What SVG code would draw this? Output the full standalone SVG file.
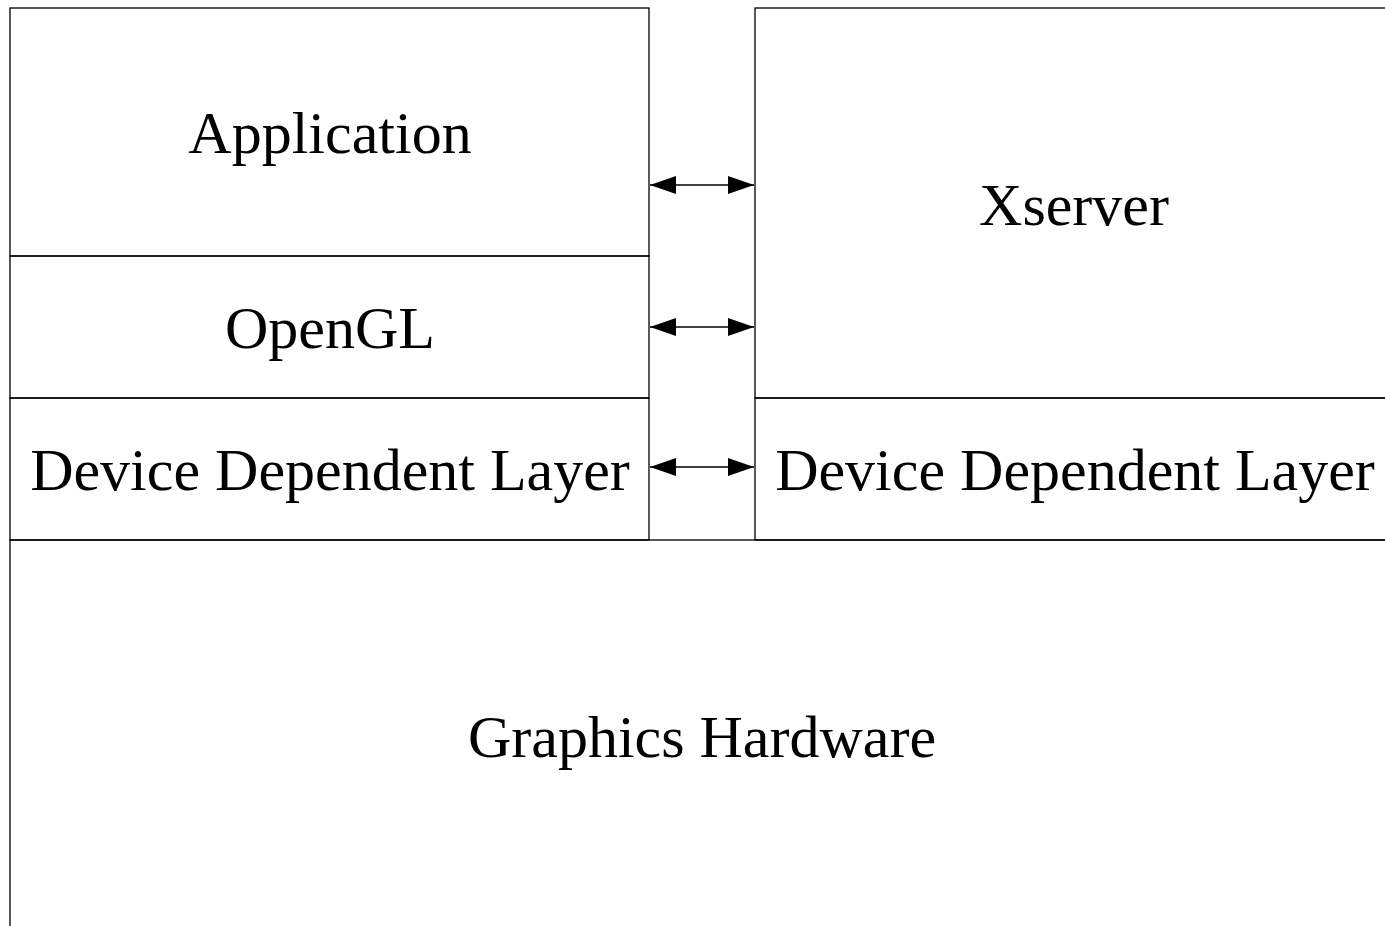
<svg xmlns="http://www.w3.org/2000/svg" width="1385" height="926" viewBox="0 0 1385 926">
<style>
.box{fill:none;stroke:#000;stroke-width:1.3}
.lbl{font-family:"Liberation Serif","Times New Roman",serif;font-size:60px;fill:#000;text-anchor:middle}
.con{stroke:#000;stroke-width:1.3;fill:none}
</style>
<defs>
<marker id="ah" markerWidth="27" markerHeight="20" refX="26" refY="10" orient="auto-start-reverse" markerUnits="userSpaceOnUse">
<path d="M0,1 L26,10 L0,19 Z" fill="#000"/>
</marker>
</defs>
<rect width="1385" height="926" fill="#fff"/>
<g id="application"><rect class="box" x="10" y="8" width="639" height="248"/><text class="lbl" x="330" y="153">Application</text></g>
<g id="opengl"><rect class="box" x="10" y="256" width="639" height="142"/><text class="lbl" x="330" y="348">OpenGL</text></g>
<g id="ddl-left"><rect class="box" x="10" y="398" width="639" height="142"/><text class="lbl" x="330" y="490">Device Dependent Layer</text></g>
<g id="xserver"><rect class="box" x="755" y="8" width="650" height="390"/><text class="lbl" x="1074" y="225">Xserver</text></g>
<g id="ddl-right"><rect class="box" x="755" y="398" width="650" height="142"/><text class="lbl" x="1075" y="490">Device Dependent Layer</text></g>
<g id="hardware"><rect class="box" x="10" y="540" width="1400" height="420"/><text class="lbl" x="702" y="757">Graphics Hardware</text></g>
<g id="connectors">
<line class="con" x1="650" y1="185" x2="754" y2="185" marker-start="url(#ah)" marker-end="url(#ah)"/>
<line class="con" x1="650" y1="327" x2="754" y2="327" marker-start="url(#ah)" marker-end="url(#ah)"/>
<line class="con" x1="650" y1="467" x2="754" y2="467" marker-start="url(#ah)" marker-end="url(#ah)"/>
</g>
</svg>
